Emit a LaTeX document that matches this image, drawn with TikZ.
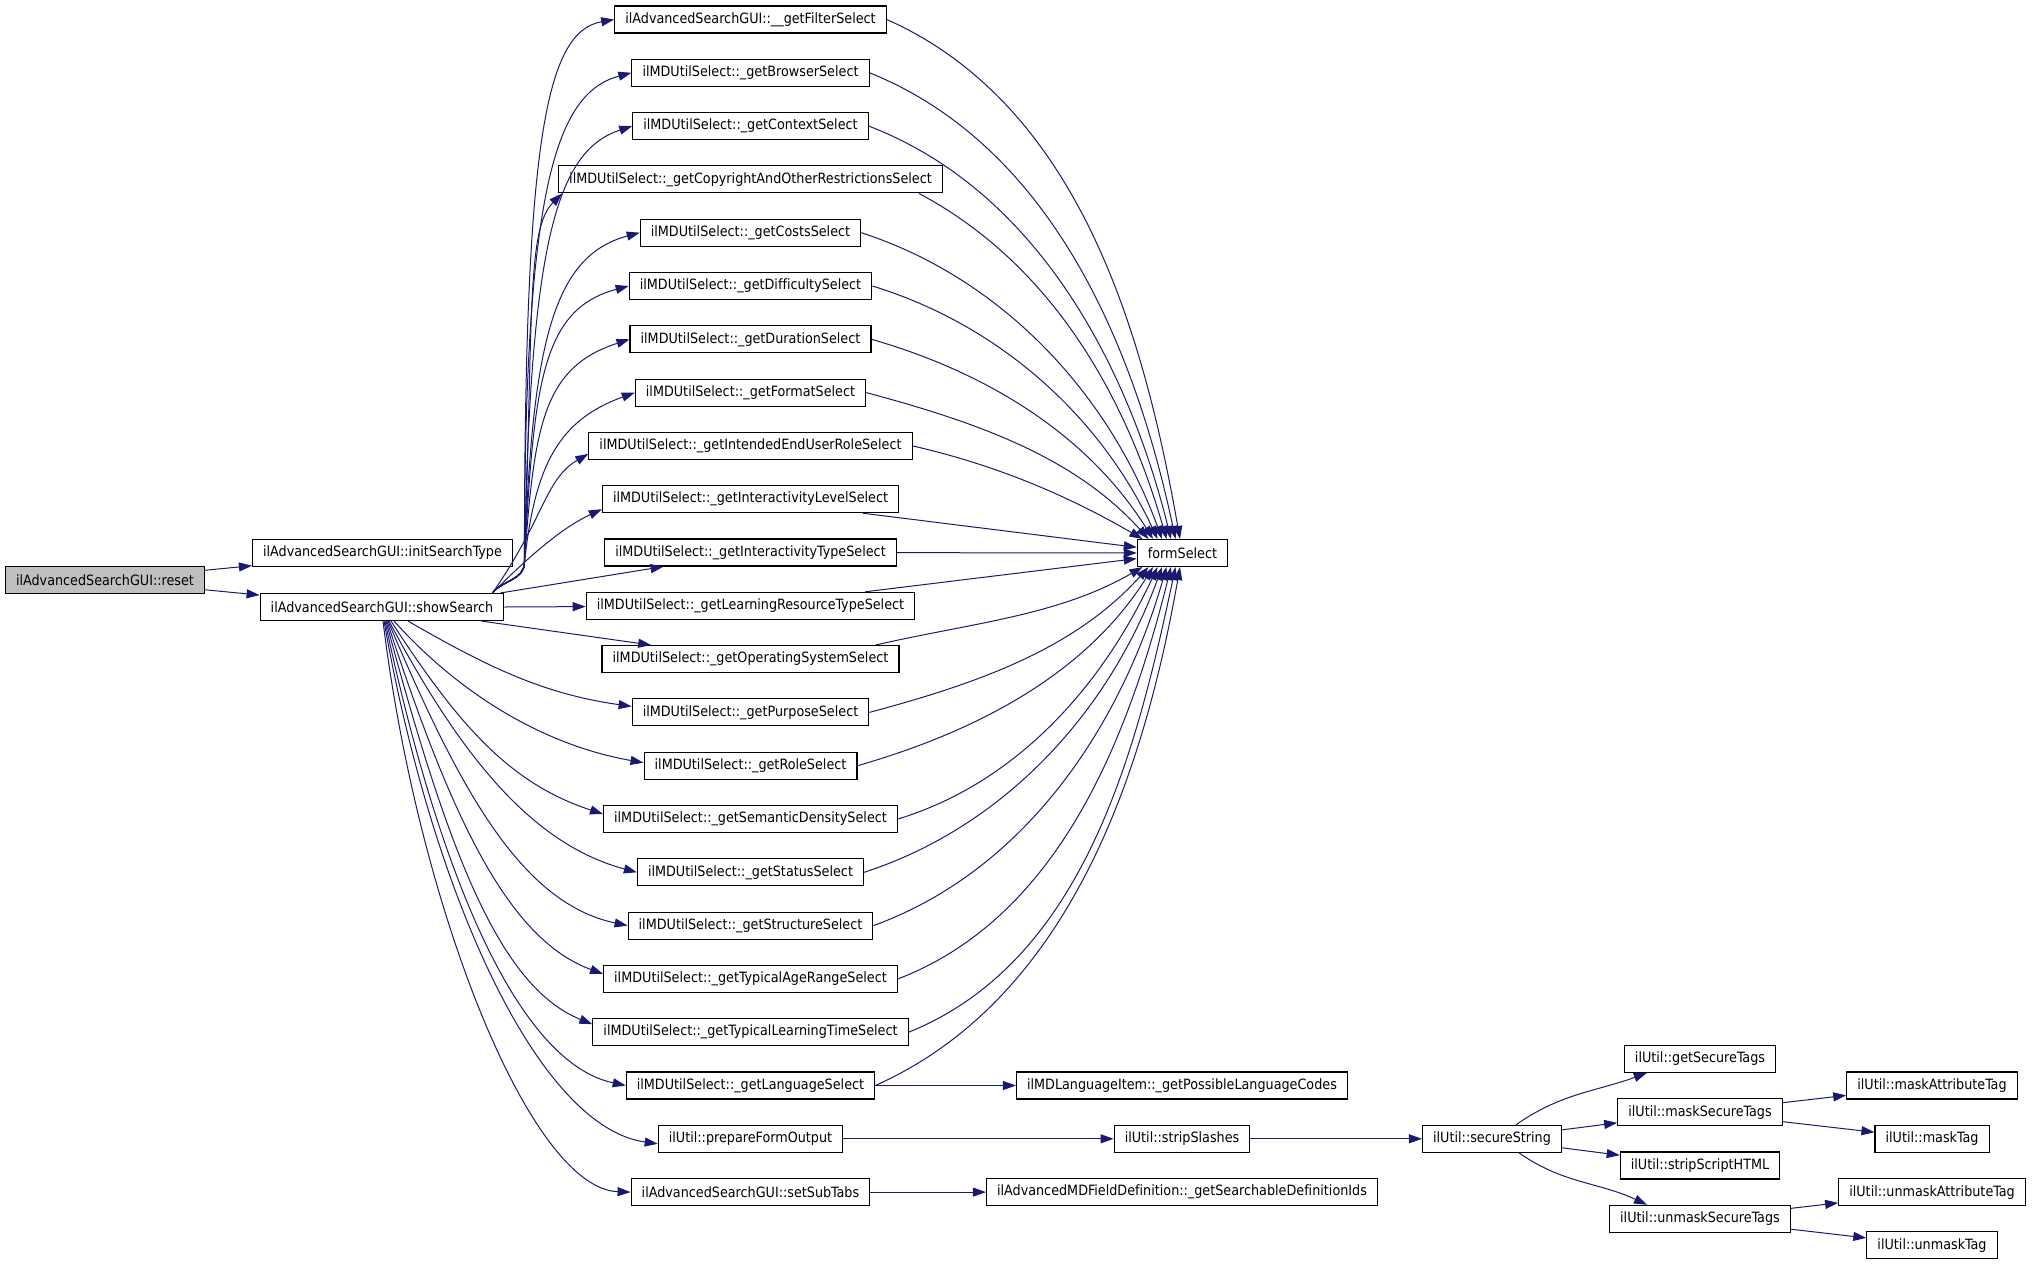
\documentclass[tikz,border=0pt]{standalone}
\usepackage{fontspec}
\setmainfont{DejaVu Sans Condensed}[Ligatures=NoCommon]
\usetikzlibrary{arrows.meta}
\definecolor{edgeblue}{RGB}{25, 25, 112}
\definecolor{rootgray}{RGB}{191, 191, 191}

\begin{document}
\begin{tikzpicture}[x = 1pt, y = 1pt,
			fn/.style = {draw = black, line width = 1.1pt, fill = white, inner xsep = 10.6pt, inner ysep = 0pt, minimum height = 27pt, font = \fontsize{14.2}{16}\selectfont},
			call/.style = {draw = edgeblue, line width = 1pt, -{Triangle[length = 13pt, width = 9pt]}}]
			\useasboundingbox (0,0) rectangle (2032,-1280);
			% callers
			\node (reset) at (105,-580) [fn, fill = rootgray] {ilAdvancedSearchGUI::reset};
			\node (init) at (382.5,-553) [fn] {ilAdvancedSearchGUI::initSearchType};
			\node (ss) at (382,-607) [fn] {ilAdvancedSearchGUI::showSearch};
			% select column
			\node (filter) at (750.5,-19.5) [fn] {ilAdvancedSearchGUI::\_\_getFilterSelect};
			\node (browser) at (750.5,-72.8) [fn] {ilMDUtilSelect::\_getBrowserSelect};
			\node (context) at (750.5,-126.1) [fn] {ilMDUtilSelect::\_getContextSelect};
			\node (copyright) at (750.5,-179.4) [fn] {ilMDUtilSelect::\_getCopyrightAndOtherRestrictionsSelect};
			\node (costs) at (750.5,-232.7) [fn] {ilMDUtilSelect::\_getCostsSelect};
			\node (difficulty) at (750.5,-286) [fn] {ilMDUtilSelect::\_getDifficultySelect};
			\node (duration) at (750.5,-339.3) [fn] {ilMDUtilSelect::\_getDurationSelect};
			\node (format) at (750.5,-392.6) [fn] {ilMDUtilSelect::\_getFormatSelect};
			\node (enduser) at (750.5,-445.9) [fn] {ilMDUtilSelect::\_getIntendedEndUserRoleSelect};
			\node (ilevel) at (750.5,-499.2) [fn] {ilMDUtilSelect::\_getInteractivityLevelSelect};
			\node (itype) at (750.5,-552.5) [fn] {ilMDUtilSelect::\_getInteractivityTypeSelect};
			\node (lrtype) at (750.5,-605.8) [fn] {ilMDUtilSelect::\_getLearningResourceTypeSelect};
			\node (ossel) at (750.5,-659.1) [fn] {ilMDUtilSelect::\_getOperatingSystemSelect};
			\node (purpose) at (750.5,-712.4) [fn] {ilMDUtilSelect::\_getPurposeSelect};
			\node (role) at (750.5,-765.7) [fn] {ilMDUtilSelect::\_getRoleSelect};
			\node (density) at (750.5,-819) [fn] {ilMDUtilSelect::\_getSemanticDensitySelect};
			\node (status) at (750.5,-872.3) [fn] {ilMDUtilSelect::\_getStatusSelect};
			\node (structure) at (750.5,-925.6) [fn] {ilMDUtilSelect::\_getStructureSelect};
			\node (agerange) at (750.5,-978.9) [fn] {ilMDUtilSelect::\_getTypicalAgeRangeSelect};
			\node (ltime) at (750.5,-1032.2) [fn] {ilMDUtilSelect::\_getTypicalLearningTimeSelect};
			\node (language) at (750.5,-1085.5) [fn] {ilMDUtilSelect::\_getLanguageSelect};
			\node (prepare) at (750.5,-1138.8) [fn] {ilUtil::prepareFormOutput};
			\node (subtabs) at (750.5,-1192.1) [fn] {ilAdvancedSearchGUI::setSubTabs};
			% right part
			\node (form) at (1182.5,-553) [fn] {formSelect};
			\node (codes) at (1182,-1085.5) [fn] {ilMDLanguageItem::\_getPossibleLanguageCodes};
			\node (strip) at (1182,-1138.8) [fn] {ilUtil::stripSlashes};
			\node (defids) at (1182,-1192.1) [fn] {ilAdvancedMDFieldDefinition::\_getSearchableDefinitionIds};
			\node (secure) at (1492,-1138.8) [fn] {ilUtil::secureString};
			\node (gettags) at (1700,-1058.9) [fn] {ilUtil::getSecureTags};
			\node (masktags) at (1700,-1112.2) [fn] {ilUtil::maskSecureTags};
			\node (script) at (1700,-1165.5) [fn] {ilUtil::stripScriptHTML};
			\node (unmasktags) at (1700,-1218.8) [fn] {ilUtil::unmaskSecureTags};
			\node (maskattr) at (1932,-1085.5) [fn] {ilUtil::maskAttributeTag};
			\node (masktag) at (1932,-1138.8) [fn] {ilUtil::maskTag};
			\node (unmaskattr) at (1932,-1192.1) [fn] {ilUtil::unmaskAttributeTag};
			\node (unmasktag) at (1932,-1245.4) [fn] {ilUtil::unmaskTag};
			% reset
			\draw [call] (reset) -- (init);
			\draw [call] (reset) -- (ss);
			% showSearch, upwards
			\draw [call] ([xshift=-12pt]ss.north east) to [out=50, in=-90] ++(32,30) to [out=90, in=190, out distance=420pt, in distance=70pt] (filter.west);
			\draw [call] ([xshift=-12pt]ss.north east) to [out=50, in=-90] ++(32,30) to [out=90, in=195, out distance=370pt, in distance=80pt] (browser.west);
			\draw [call] ([xshift=-12pt]ss.north east) to [out=50, in=-91] ++(32,30) to [out=89, in=198, out distance=320pt, in distance=80pt] (context.west);
			\draw [call] ([xshift=-12pt]ss.north east) to [out=50, in=-92] ++(32,30) to [out=88, in=225, out distance=250pt, in distance=50pt] ([xshift=4pt]copyright.south west);
			\draw [call] ([xshift=-12pt]ss.north east) to [out=50, in=-92] ++(32,30) to [out=88, in=195, out distance=220pt, in distance=90pt] (costs.west);
			\draw [call] ([xshift=-12pt]ss.north east) to [out=50, in=-93] ++(32,30) to [out=87, in=195, out distance=180pt, in distance=90pt] (difficulty.west);
			\draw [call] ([xshift=-12pt]ss.north east) to [out=50, in=-94] ++(32,30) to [out=86, in=198, out distance=140pt, in distance=90pt] (duration.west);
			\draw [call] ([xshift=-12pt]ss.north east) to [out=50, in=-96] ++(32,30) to [out=84, in=200, out distance=100pt, in distance=80pt] (format.west);
			\draw [call] ([xshift=-12pt]ss.north east) to [out=55, in=210, out distance=90pt, in distance=50pt] ([yshift=-8pt]enduser.west);
			\draw [call] ([xshift=-12pt]ss.north east) to [out=45, in=205, out distance=50pt, in distance=45pt] ([yshift=-10pt]ilevel.west);
			\draw [call] ([xshift=-4pt]ss.north east) -- (itype);
			\draw [call] (ss.east) -- (lrtype);
			\draw [call] (ss) -- (ossel);
			% showSearch, downwards
			\draw [call] ([xshift=26pt]ss.south) to [out=-30, in=172, out distance=90pt, in distance=90pt] ([yshift=6pt]purpose.west);
			\draw [call] ([xshift=12pt]ss.south) to [out=-48, in=170, out distance=100pt, in distance=100pt] ([yshift=3pt]role.west);
			\draw [call] ([xshift=9pt]ss.south) to [out=-57, in=162, out distance=120pt, in distance=100pt] ([yshift=5pt]density.west);
			\draw [call] ([xshift=7pt]ss.south) to [out=-62, in=165, out distance=150pt, in distance=110pt] (status.west);
			\draw [call] ([xshift=6pt]ss.south) to [out=-67, in=168, out distance=180pt, in distance=110pt] (structure.west);
			\draw [call] ([xshift=5pt]ss.south) to [out=-72, in=160, out distance=210pt, in distance=100pt] ([yshift=5pt]agerange.west);
			\draw [call] ([xshift=4pt]ss.south) to [out=-75, in=158, out distance=240pt, in distance=100pt] ([yshift=8pt]ltime.west);
			\draw [call] ([xshift=3pt]ss.south) to [out=-78, in=168, out distance=260pt, in distance=110pt] (language.west);
			\draw [call] ([xshift=2pt]ss.south) to [out=-80, in=172, out distance=280pt, in distance=120pt] ([yshift=-5pt]prepare.west);
			\draw [call] ([xshift=1pt]ss.south) to [out=-83, in=178, out distance=290pt, in distance=100pt] (subtabs.west);
			% into formSelect, from above
			\draw [call] (filter.east) to [out=-24, in=100, looseness=0.9] ([xshift=-2.5pt]form.north);
			\draw [call] (browser.east) to [out=-22, in=102, looseness=0.9] ([xshift=-7pt]form.north);
			\draw [call] (context.east) to [out=-21, in=104, looseness=0.9] ([xshift=-11.5pt]form.north);
			\draw [call] ([xshift=-24pt]copyright.south east) to [out=-28, in=106, looseness=0.9] ([xshift=-16pt]form.north);
			\draw [call] (costs.east) to [out=-18, in=110, looseness=0.9] ([xshift=-20.5pt]form.north);
			\draw [call] (difficulty.east) to [out=-17, in=115, looseness=0.9] ([xshift=-25pt]form.north);
			\draw [call] (duration.east) to [out=-16, in=122, looseness=0.9] ([xshift=-29.5pt]form.north);
			\draw [call] (format.east) to [out=-15, in=132, looseness=0.9] ([xshift=-34pt]form.north);
			\draw [call] (enduser.east) to [out=-13, in=150, looseness=0.9] ([xshift=-40pt]form.north);
			\draw [call] (ilevel) -- (form);
			\draw [call] (itype) -- (form);
			\draw [call] (lrtype) -- (form);
			% into formSelect, from below
			\draw [call] ([xshift=-24pt]ossel.north east) to [out=13, in=-150, looseness=0.9] ([xshift=-40pt]form.south);
			\draw [call] (purpose.east) to [out=15, in=-132, looseness=0.9] ([xshift=-34pt]form.south);
			\draw [call] (role.east) to [out=16, in=-122, looseness=0.9] ([xshift=-29.5pt]form.south);
			\draw [call] (density.east) to [out=17, in=-115, looseness=0.9] ([xshift=-25pt]form.south);
			\draw [call] (status.east) to [out=18, in=-110, looseness=0.9] ([xshift=-20.5pt]form.south);
			\draw [call] (structure.east) to [out=20, in=-106, looseness=0.9] ([xshift=-16pt]form.south);
			\draw [call] (agerange.east) to [out=21, in=-104, looseness=0.9] ([xshift=-11.5pt]form.south);
			\draw [call] (ltime.east) to [out=22, in=-102, looseness=0.9] ([xshift=-7pt]form.south);
			\draw [call] (language.east) to [out=24, in=-100, looseness=0.9] ([xshift=-2.5pt]form.south);
			% lower chains
			\draw [call] (language) -- (codes);
			\draw [call] (prepare) -- (strip);
			\draw [call] (subtabs) -- (defids);
			\draw [call] (strip) -- (secure);
			\draw [call] ([xshift=24pt]secure.north) to [out=35, in=200] ([xshift=23pt]gettags.south west);
			\draw [call] (secure) -- (masktags);
			\draw [call] (secure) -- (script);
			\draw [call] ([xshift=27pt]secure.south) to [out=-35, in=155] ([xshift=38pt]unmasktags.north west);
			\draw [call] (masktags) -- (maskattr);
			\draw [call] (masktags) -- (masktag);
			\draw [call] (unmasktags) -- (unmaskattr);
			\draw [call] (unmasktags) -- (unmasktag);
			\end{tikzpicture}
\end{document}
